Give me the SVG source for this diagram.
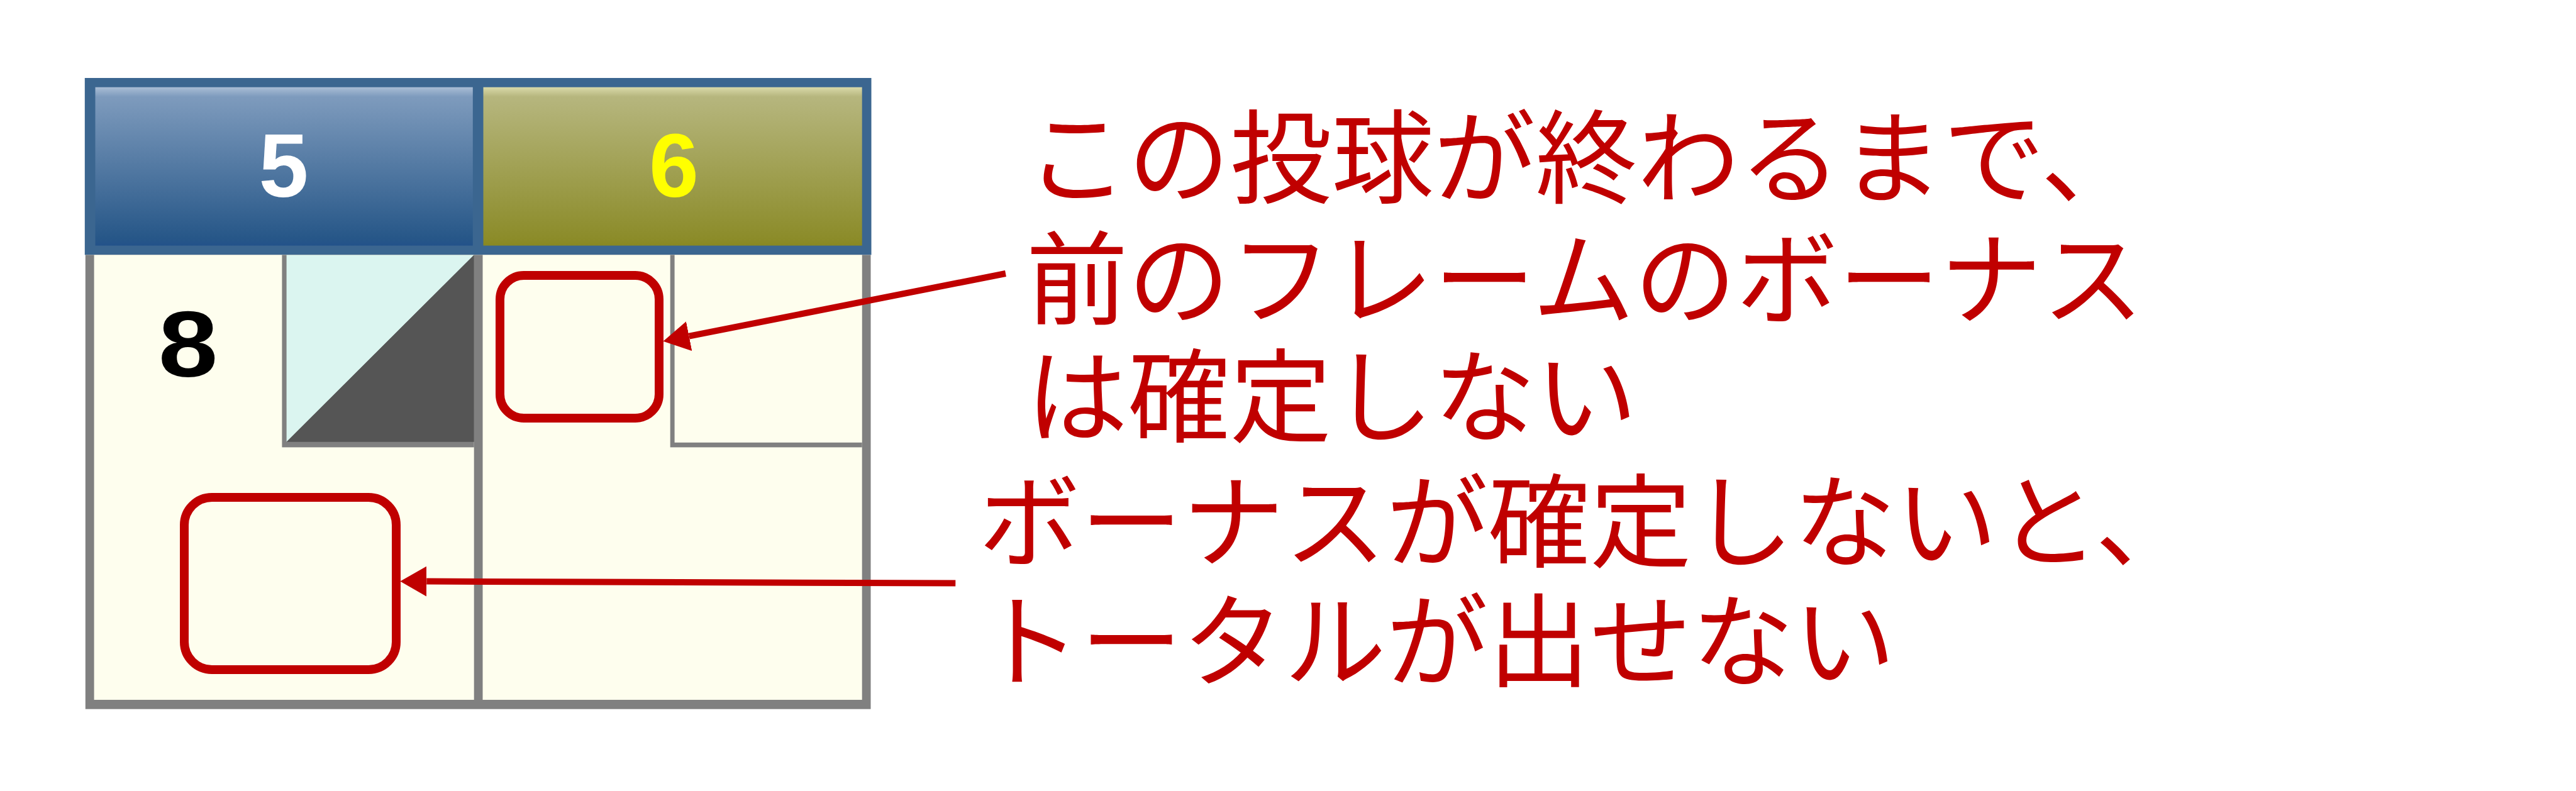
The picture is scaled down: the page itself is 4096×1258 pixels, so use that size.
<svg xmlns="http://www.w3.org/2000/svg" width="4096" height="1258" viewBox="0 0 4096 1258">
<defs>
<linearGradient id="gBlue" x1="0" y1="0" x2="0" y2="1">
<stop offset="0" stop-color="#A9BDD5"/>
<stop offset="0.06" stop-color="#7E9BBD"/>
<stop offset="0.95" stop-color="#275788"/>
<stop offset="1" stop-color="#23528A"/>
</linearGradient>
<linearGradient id="gOlive" x1="0" y1="0" x2="0" y2="1">
<stop offset="0" stop-color="#D9D9A9"/>
<stop offset="0.06" stop-color="#B6B67E"/>
<stop offset="0.95" stop-color="#8C8C2A"/>
<stop offset="1" stop-color="#888822"/>
</linearGradient>
<marker id="ah" markerUnits="userSpaceOnUse" markerWidth="42" markerHeight="48" viewBox="0 0 42 48" refX="0" refY="24" orient="auto">
<path d="M0,0 L42,24 L0,48 z" fill="#C00000"/>
</marker>
<style>
.cream{fill:#FEFEEE}
.gray{fill:#808080}
.digit{font-family:"Liberation Sans",Arial,sans-serif;font-weight:bold;text-anchor:middle}
.note{font-family:"Noto Sans CJK JP","Noto Sans CJK SC",sans-serif;font-size:162px;fill:#C00000}
.hl{fill:none;stroke:#C00000;stroke-width:14}
.conn{fill:none;stroke:#C00000;stroke-width:10}
</style>
</defs>
<rect width="4096" height="1258" fill="#FFFFFF"/>
<g id="header">
<rect x="134.8" y="124" width="1250.7" height="281.4" fill="#3B6690"/>
<g id="frame5">
<rect x="151.5" y="138.7" width="600.3" height="251.9" fill="url(#gBlue)"/>
<text class="digit" x="451" y="313" font-size="142" fill="#FFFFFF">5</text>
</g>
<g id="frame6">
<rect x="768.5" y="138.7" width="602.2" height="251.9" fill="url(#gOlive)"/>
<text class="digit" x="1071.6" y="313" font-size="142" fill="#FFFF00">6</text>
</g>
</g>
<g id="scorecard">
<rect class="gray" x="135.8" y="405.4" width="1248.7" height="722.3"/>
<rect class="cream" x="149.6" y="405.4" width="604.1" height="707.6"/>
<rect class="cream" x="767.5" y="405.4" width="603.2" height="707.6"/>
<g id="ball1">
<text class="digit" transform="translate(299,599) scale(1.15,1)" x="0" y="0" font-size="148" fill="#000000">8</text>
</g>
<g id="ball2">
<rect class="gray" x="448.4" y="405.4" width="305.3" height="306"/>
<polygon points="455.6,405.4 753.7,405.4 455.6,702.8" fill="#DBF5F0"/>
<polygon points="753.7,405.4 753.7,702.8 455.6,702.8" fill="#555555"/>
</g>
<g id="ball3">
<rect class="gray" x="1065.7" y="405.4" width="305" height="306"/>
<rect class="cream" x="1072.6" y="405.4" width="298.1" height="298.4"/>
</g>
</g>
<g id="highlight-ball">
<rect class="hl" x="795" y="438" width="253" height="227" rx="38"/>
</g>
<g id="highlight-total">
<rect class="hl" x="293" y="791" width="337" height="274" rx="44"/>
</g>
<g id="connectors">
<line class="conn" x1="1599" y1="435" x2="1095.7" y2="534.7" marker-end="url(#ah)"/>
<line class="conn" x1="1519.3" y1="927.5" x2="678.3" y2="924.6" marker-end="url(#ah)"/>
</g>
<g id="note1">
<text class="note" x="1631.5" y="311">この投球が終わるまで、</text>
<text class="note" x="1631.5" y="504">前のフレームのボーナス</text>
<text class="note" x="1631.5" y="691">は確定しない</text>
</g>
<g id="note2">
<text class="note" x="1556" y="890">ボーナスが確定しないと、</text>
<text class="note" x="1556" y="1080">トータルが出せない</text>
</g>
</svg>
